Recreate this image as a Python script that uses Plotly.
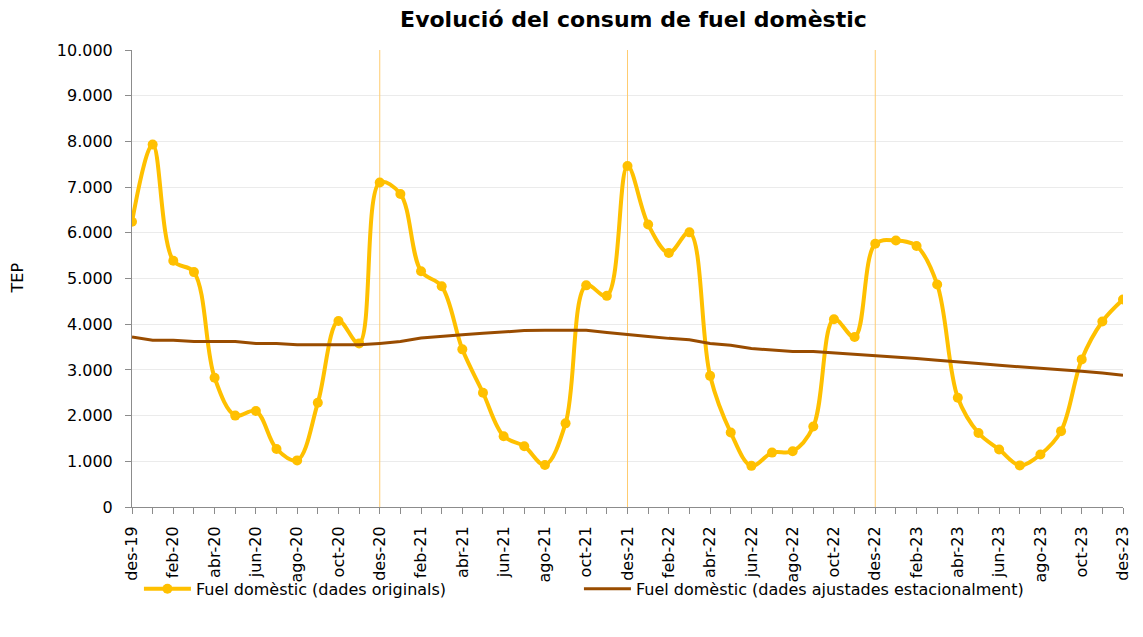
import plotly.graph_objects as go

months = ["des-19","gen-20","feb-20","mar-20","abr-20","mai-20","jun-20","jul-20","ago-20","set-20","oct-20","nov-20",
          "des-20","gen-21","feb-21","mar-21","abr-21","mai-21","jun-21","jul-21","ago-21","set-21","oct-21","nov-21",
          "des-21","gen-22","feb-22","mar-22","abr-22","mai-22","jun-22","jul-22","ago-22","set-22","oct-22","nov-22",
          "des-22","gen-23","feb-23","mar-23","abr-23","mai-23","jun-23","jul-23","ago-23","set-23","oct-23","nov-23",
          "des-23"]

original = [6240, 7930, 5390, 5140, 2830, 2000, 2100, 1270, 1020, 2280, 4070, 3580,
            7100, 6850, 5160, 4830, 3450, 2500, 1550, 1330, 920, 1830, 4850, 4620,
            7460, 6180, 5560, 6010, 2870, 1630, 900, 1190, 1220, 1760, 4110, 3720,
            5760, 5830, 5710, 4870, 2390, 1620, 1260, 910, 1150, 1660, 3230, 4060,
            4540]

adjusted = [3720, 3650, 3650, 3620, 3620, 3620, 3580, 3580, 3550, 3550, 3550, 3550,
            3580, 3620, 3700, 3740, 3770, 3800, 3830, 3860, 3870, 3870, 3870, 3820,
            3770, 3730, 3690, 3660, 3580, 3540, 3470, 3430, 3400, 3400, 3370, 3340,
            3320, 3290, 3250, 3210, 3180, 3140, 3100, 3070, 3040, 3000, 2970, 2930,
            2880]

year_marks = ["des-20", "des-21", "des-22"]
y_max = 10000

x = list(range(len(months)))

FONT = "DejaVu Sans, Liberation Sans, Arial, sans-serif"

fig = go.Figure()

# year separator lines
vx, vy = [], []
for m in year_marks:
    i = months.index(m)
    vx += [i, i, None]
    vy += [0, y_max, None]
fig.add_trace(go.Scatter(x=vx, y=vy, mode="lines", line=dict(color="#FFCC70", width=1),
                         showlegend=False, hoverinfo="skip"))

fig.add_trace(go.Scatter(
    x=x, y=original, mode="lines+markers", name="Fuel domèstic (dades originals)",
    line=dict(color="#FFC000", width=4, shape="spline", smoothing=1.0),
    marker=dict(color="#FFC000", size=10), legend="legend",
))
fig.add_trace(go.Scatter(
    x=x, y=adjusted, mode="lines", name="Fuel domèstic (dades ajustades estacionalment)",
    line=dict(color="#994C00", width=3), legend="legend2",
))

fig.add_annotation(text="TEP", xref="paper", yref="paper", x=0, y=0.5, xshift=-115,
                   xanchor="center", yanchor="middle", textangle=-90, showarrow=False,
                   font=dict(family=FONT, size=16, color="black"))

leg_common = dict(orientation="h", xanchor="left", y=-0.179, yanchor="middle",
                  itemwidth=47, font=dict(family=FONT, size=16), bgcolor="rgba(0,0,0,0)")

# page body has an 8px margin: figure is sized/offset to compensate
fig.update_layout(
    width=1135, height=629,
    margin=dict(l=124, r=20, t=42, b=130, autoexpand=False),
    plot_bgcolor="white", paper_bgcolor="white",
    separators=",.",
    hovermode=False,
    font=dict(family=FONT, size=16, color="black"),
    title=dict(text="<b>Evolució del consum de fuel domèstic</b>", xref="paper", x=0.506,
               xanchor="center", y=0.982, yanchor="middle", yref="container",
               font=dict(family=FONT, size=22)),
    showlegend=True,
    legend=dict(x=0.007, **leg_common),
    legend2=dict(x=0.451, **leg_common),
    xaxis=dict(
        range=[0, 48], tickmode="array", tickvals=x[::2], ticktext=months[::2],
        tickangle=-90, showgrid=False, zeroline=False, showline=True, linecolor="#8C8C8C",
        ticks="outside", ticklen=6, tickcolor="#8C8C8C", automargin=False,
        ticklabelstandoff=6,
        minor=dict(dtick=1, ticks="outside", ticklen=6, tickcolor="#8C8C8C", showgrid=False),
    ),
    yaxis=dict(
        range=[0, y_max], dtick=1000, tickformat=",d", showgrid=True, gridcolor="#EBEBEB",
        zeroline=False, showline=True, linecolor="#8C8C8C", ticks="outside", ticklen=6,
        tickcolor="#8C8C8C", automargin=False, ticklabelstandoff=9,
    ),
)

fig.write_html("out.html")
